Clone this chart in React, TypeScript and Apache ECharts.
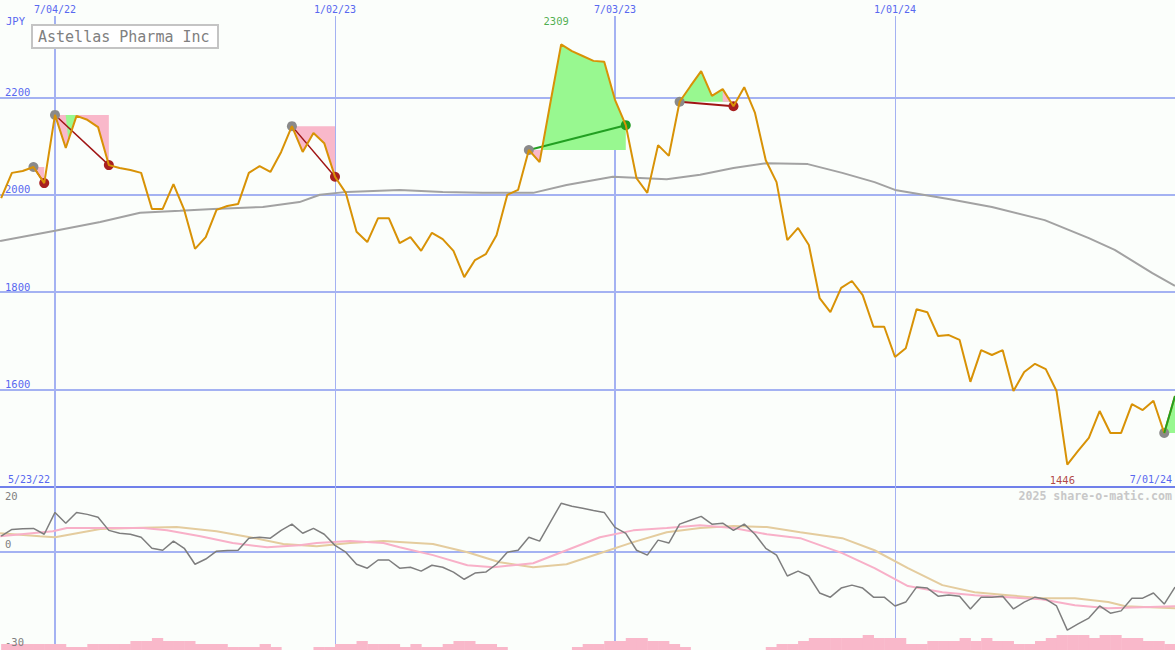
import React, { useEffect, useRef } from "react";
import * as echarts from "echarts";

// ---------- data ----------
const FIRST_WEEK = -5; // week index of the first close (week 0 = 7/04/22)

const closes = [
  1993, 2045, 2049, 2057, 2024,
  2164, 2096, 2162, 2154, 2139, 2061, 2055, 2051, 2045, 1971,
  1971, 2022, 1969, 1889, 1913, 1969, 1977, 1981, 2045, 2059,
  2047, 2088, 2141, 2088, 2127, 2106, 2037, 2004, 1924, 1903,
  1952, 1952, 1901, 1913, 1885, 1922, 1909, 1885, 1831, 1866,
  1878, 1917, 2000, 2010, 2092, 2067, 2189, 2309, 2295, 2285,
  2275, 2273, 2195, 2143, 2034, 2004, 2102, 2080, 2191, 2223,
  2254, 2203, 2217, 2182, 2221, 2168, 2071, 2026, 1907, 1932,
  1897, 1788, 1759, 1809, 1823, 1794, 1729, 1729, 1667, 1685,
  1765, 1759, 1710, 1712, 1702, 1616, 1681, 1671, 1681, 1597,
  1636, 1653, 1642, 1597, 1446, 1474, 1501, 1556, 1511, 1511,
  1570, 1558, 1577, 1511, 1587,
];

const movingAvg: [number, number][] = [
  [-5.1, 1905], [0, 1926], [4.2, 1944], [7.9, 1963], [11.6, 1967], [14.7, 1971],
  [19.3, 1975], [22.7, 1985], [24.6, 2000], [27.1, 2006], [32, 2010], [36, 2006],
  [39.7, 2004], [44.4, 2004], [47.5, 2020], [51.8, 2037], [56.8, 2032], [59.9, 2041],
  [63, 2055], [66.1, 2065], [69.9, 2063], [73.1, 2045], [76.1, 2026], [78, 2010],
  [83.1, 1991], [87, 1975], [91.9, 1948], [96, 1911], [98.4, 1887], [101.9, 1839],
  [104, 1813],
];

const oscillator = [
  4.9, 7.0, 7.2, 7.3, 5.5,
  12.2, 8.9, 12.2, 11.6, 10.7, 6.7, 5.8, 5.5, 4.6, 1.2,
  0.6, 3.4, 1.2, -3.7, -2.1, 0.3, 0.5, 0.6, 4.3, 4.6,
  4.3, 6.7, 8.6, 5.8, 7.3, 5.5, 2.1, 0, -3.7, -4.9,
  -2.4, -2.4, -4.9, -4.6, -5.8, -4.0, -4.6, -6.1, -8.3, -6.4,
  -6.1, -3.7, 0, 0.6, 4.6, 3.4, 9.2, 15.0, 14.1, 13.5,
  12.8, 12.2, 7.6, 5.8, 0.6, -0.9, 3.7, 2.8, 8.6, 9.8,
  11.0, 8.6, 8.9, 6.7, 8.6, 5.5, 1.2, -0.9, -7.3, -5.8,
  -7.3, -12.5, -13.8, -11.0, -10.1, -11.0, -13.8, -13.8, -16.5, -15.3,
  -10.7, -11.0, -13.5, -13.1, -13.5, -17.4, -13.8, -13.8, -13.5, -17.4,
  -15.3, -13.8, -14.4, -16.5, -23.9, -22.0, -20.2, -16.5, -18.7, -18.0,
  -14.1, -14.1, -12.5, -15.9, -10.7,
];

const oscPink: [number, number][] = [
  [-5.1, 4.9], [-0.2, 6.4], [1.1, 7.4], [4.2, 7.4], [8.2, 7.4], [10.4, 6.7],
  [13.5, 4.9], [16.5, 2.8], [19.7, 1.5], [22.7, 2.1], [24.3, 2.8], [27.4, 3.4],
  [30.5, 2.8], [32, 1.5], [35.1, -0.9], [38.3, -4.0], [40.7, -4.6], [44.4, -3.4],
  [47.5, 0.6], [50.6, 4.6], [53.7, 6.7], [56.8, 7.4], [59.9, 8.3], [63, 7.4],
  [66.1, 5.5], [69.2, 4.3], [73.1, -0.3], [76.1, -4.9], [79.2, -10.4], [82.4, -12.3],
  [85.4, -13.2], [88.5, -13.8], [91.6, -14.4], [94.7, -16.3], [97.8, -17.2],
  [100.9, -16.9], [104, -16.6],
];

const oscTan: [number, number][] = [
  [-5.1, 5.8], [-1.4, 4.9], [0, 4.6], [4.2, 7.1], [7.2, 7.4], [11.3, 7.7],
  [15, 6.4], [18.1, 4.6], [21.2, 2.5], [24.3, 1.8], [27.4, 2.8], [30.5, 3.4],
  [32, 3.1], [35.1, 2.5], [38.3, 0], [41.3, -3.1], [44.4, -4.6], [47.5, -3.7],
  [50.6, -0.3], [53.7, 3.1], [56.8, 6.1], [59.9, 7.4], [63, 8.0], [66.1, 7.7],
  [69.2, 6.1], [73.1, 4.3], [76.1, 0.6], [79.2, -4.9], [82.4, -10.1], [85.4, -12.3],
  [88.5, -13.2], [91.6, -14.1], [94.7, -14.1], [97.8, -15.3], [99.4, -16.6],
  [104, -17.2],
];

const volumeLevels = [
  2, 2, 2, 2, 2,
  2, 1, 1, 2, 2, 2, 2, 3, 3, 4,
  3, 3, 3, 2, 2, 2, 1, 1, 1, 2,
  1, 0, 0, 0, 1, 1, 2, 2, 3, 2,
  2, 2, 1, 2, 1, 1, 2, 3, 3, 2,
  2, 1, 0, 0, 0, 0, 0, 0, 1, 2,
  2, 3, 3, 4, 4, 3, 3, 2, 1, 0,
  0, 0, 0, 0, 0, 0, 1, 2, 2, 3,
  4, 4, 4, 4, 4, 5, 4, 4, 4, 2,
  2, 3, 3, 3, 4, 3, 4, 3, 3, 2,
  2, 3, 4, 5, 5, 5, 4, 5, 5, 4,
  4, 3, 3, 2, 2,
];

const gridWeeks = [0, 26, 52, 78];
const gridDates = ["7/04/22", "1/02/23", "7/03/23", "1/01/24"];
const startDate = "5/23/22";
const endDate = "7/01/24";
const currency = "JPY";
const title = "Astellas Pharma Inc";
const watermark = "2025 share-o-matic.com";

const tradeEntry = [-2, 0, 22, 44, 58, 103];
const tradeExit = [-1, 5, 26, 53, 63, 104];
const tradeWon = [false, false, false, true, false, true];
const tradeOpen = [false, false, false, false, false, true];

const extraGreen: [number, number][][] = [
  [[0.99, 2164], [1.95, 2164], [1.23, 2115]],
];
const extraPink: [number, number][][] = [
  [[62, 2217], [62, 2191], [62.74, 2191]],
];

// ---------- styles ----------
const X_MIN = -5.107;
const X_MAX = 104;
const FONT = "DejaVu Sans Mono";
const BLUE_TXT = "#5868f0";
const GRID_CLR = "#a4b2f2";
const PRICE_CLR = "#d89206";
const GREEN_FILL = "#98f890";
const PINK_FILL = "#f9b8ca";
const RED_DOT = "#a82020";
const GREEN_DOT = "#1f9a1f";
const LOSS_LINE = "#a01414";
const WIN_LINE = "#22a022";

const priceAt = (w: number) => closes[w - FIRST_WEEK];

// region between price and entry level, on one side (above or below)
function sidePolygon(a: number, b: number, level: number, above: boolean): number[][] {
  const clampV = (v: number) => (above ? Math.max(v, level) : Math.min(v, level));
  const pts: number[][] = [[a, level]];
  for (let w = a; w <= b; w++) {
    const v = priceAt(w);
    if (w > a) {
      const pv = priceAt(w - 1);
      if ((pv - level) * (v - level) < 0) {
        const t = (level - pv) / (v - pv);
        pts.push([w - 1 + t, level]);
      }
    }
    pts.push([w, clampV(v)]);
  }
  pts.push([b, level]);
  return pts;
}

export default function App() {
  const ref = useRef<HTMLDivElement>(null);

  useEffect(() => {
    if (!ref.current) return;
    const chart = echarts.init(ref.current, undefined, { renderer: "svg" });

    const priceData = closes.map((v, i) => [i + FIRST_WEEK, v]);
    const oscData = oscillator.map((v, i) => [i + FIRST_WEEK, v]);
    const volData = volumeLevels.map((v, i) => [i + FIRST_WEEK, v]);

    const fills: { color: string; pts: number[][] }[] = [];
    tradeEntry.forEach((a, k) => {
      const b = tradeExit[k];
      const level = priceAt(a);
      fills.push({ color: GREEN_FILL, pts: sidePolygon(a, b, level, true) });
      fills.push({ color: PINK_FILL, pts: sidePolygon(a, b, level, false) });
    });
    extraGreen.forEach((pts) => fills.push({ color: GREEN_FILL, pts }));
    extraPink.forEach((pts) => fills.push({ color: PINK_FILL, pts }));

    let maxI = 0;
    let minI = 0;
    closes.forEach((v, i) => {
      if (v > closes[maxI]) maxI = i;
      if (v < closes[minI]) minI = i;
    });

    const series: any[] = [];

    series.push({
      type: "custom",
      xAxisIndex: 0,
      yAxisIndex: 0,
      z: 2,
      silent: true,
      data: fills.map((f) => f.pts[0]),
      renderItem: (params: any, api: any) => {
        const f = fills[params.dataIndex];
        return {
          type: "polygon",
          shape: { points: f.pts.map((p) => api.coord(p)) },
          style: { fill: f.color, stroke: null },
        };
      },
    });

    series.push({
      type: "line",
      xAxisIndex: 0,
      yAxisIndex: 0,
      z: 3,
      data: movingAvg,
      symbol: "none",
      silent: true,
      lineStyle: { color: "#a2a2a2", width: 2 },
      markLine: {
        z: 1,
        silent: true,
        symbol: ["none", "none"],
        data: gridWeeks.map((w, i) => [
          {
            coord: [w, 2367],
            lineStyle: { color: GRID_CLR, width: i % 2 === 0 ? 2 : 1, type: "solid" },
            label: {
              show: true,
              position: "start",
              distance: 2,
              formatter: gridDates[i],
              color: BLUE_TXT,
              fontFamily: FONT,
              fontSize: 10,
            },
          },
          { coord: [w, 1400] },
        ]),
      },
    });

    tradeEntry.forEach((a, k) => {
      const b = tradeExit[k];
      series.push({
        type: "line",
        xAxisIndex: 0,
        yAxisIndex: 0,
        z: tradeOpen[k] ? 7 : 4,
        data: [[a, priceAt(a)], [b, priceAt(b)]],
        symbol: "none",
        silent: true,
        lineStyle: {
          color: tradeWon[k] ? WIN_LINE : LOSS_LINE,
          width: tradeOpen[k] || k === 4 || k === 3 ? 2 : 1.5,
        },
      });
    });

    series.push({
      type: "scatter",
      xAxisIndex: 0,
      yAxisIndex: 0,
      z: 5,
      silent: true,
      symbolSize: 10,
      itemStyle: { color: "#8a8a8a", opacity: 1 },
      data: tradeEntry.map((a) => [a, priceAt(a)]),
    });
    series.push({
      type: "scatter",
      xAxisIndex: 0,
      yAxisIndex: 0,
      z: 5,
      silent: true,
      symbolSize: 10,
      data: tradeExit
        .map((b, k) => ({ b, k }))
        .filter(({ k }) => !tradeOpen[k])
        .map(({ b, k }) => ({
          value: [b, priceAt(b)],
          itemStyle: { color: tradeWon[k] ? GREEN_DOT : RED_DOT, opacity: 1 },
        })),
    });

    series.push({
      type: "line",
      xAxisIndex: 0,
      yAxisIndex: 0,
      z: 6,
      data: priceData,
      symbol: "none",
      silent: true,
      lineStyle: { color: PRICE_CLR, width: 2 },
    });

    series.push({
      type: "scatter",
      xAxisIndex: 0,
      yAxisIndex: 0,
      z: 8,
      silent: true,
      symbolSize: 0,
      data: [
        {
          value: [maxI + FIRST_WEEK, closes[maxI]],
          label: {
            show: true,
            position: "inside",
            offset: [-5, -23],
            formatter: String(closes[maxI]),
            color: "#1f9a1f",
            fontFamily: FONT,
            fontSize: 10.5,
          },
        },
        {
          value: [minI + FIRST_WEEK, closes[minI]],
          label: {
            show: true,
            position: "inside",
            offset: [-5, 15],
            formatter: String(closes[minI]),
            color: "#a01414",
            fontFamily: FONT,
            fontSize: 10.5,
          },
        },
      ],
    });

    // lower panel
    series.push({
      type: "line",
      xAxisIndex: 1,
      yAxisIndex: 1,
      z: 3,
      data: oscTan,
      symbol: "none",
      silent: true,
      lineStyle: { color: "#e4cc9e", width: 2 },
    });
    series.push({
      type: "line",
      xAxisIndex: 1,
      yAxisIndex: 1,
      z: 4,
      data: oscPink,
      symbol: "none",
      silent: true,
      lineStyle: { color: "#f8b0c8", width: 2 },
    });
    series.push({
      type: "line",
      xAxisIndex: 1,
      yAxisIndex: 1,
      z: 5,
      data: oscData,
      symbol: "none",
      silent: true,
      lineStyle: { color: "#7e7e7e", width: 1.5 },
      markLine: {
        z: 1,
        silent: true,
        symbol: ["none", "none"],
        label: { show: false },
        data: [
          ...gridWeeks.map((w, i) => ({
            xAxis: w,
            lineStyle: { color: GRID_CLR, width: i % 2 === 0 ? 2 : 1, type: "solid" },
          })),
          { yAxis: 0, lineStyle: { color: GRID_CLR, width: 2, type: "solid" } },
        ],
      },
    });

    series.push({
      type: "custom",
      xAxisIndex: 2,
      yAxisIndex: 3,
      z: 9,
      silent: true,
      data: volData,
      renderItem: (params: any, api: any) => {
        const w = api.value(0);
        const v = api.value(1);
        if (!v) return null;
        const p0 = api.coord([w, v]);
        const p1 = api.coord([w + 1, 0]);
        return {
          type: "rect",
          shape: { x: p0[0], y: p0[1], width: p1[0] - p0[0] + 0.5, height: p1[1] - p0[1] },
          style: { fill: PINK_FILL, stroke: null },
        };
      },
    });

    const hiddenX = (gridIndex: number) => ({
      type: "value",
      gridIndex,
      min: X_MIN,
      max: X_MAX,
      axisLine: { show: false },
      axisTick: { show: false },
      axisLabel: { show: false },
      splitLine: { show: false },
    });

    const option: any = {
      animation: false,
      backgroundColor: "#fbfefb",
      grid: [
        { left: 0, right: 0, top: 0, height: 487 },
        { left: 0, right: 0, top: 487, height: 163 },
        { left: 0, right: 0, top: 620, height: 30 },
      ],
      xAxis: [
        {
          ...hiddenX(0),
          axisLine: { show: true, onZero: false, lineStyle: { color: "#7080ea", width: 2 } },
        },
        hiddenX(1),
        hiddenX(2),
      ],
      yAxis: [
        {
          type: "value",
          gridIndex: 0,
          position: "left",
          min: 1400,
          max: 2400,
          interval: 200,
          axisLine: { show: false },
          axisTick: { show: false },
          splitLine: {
            show: true,
            showMinLine: false,
            showMaxLine: false,
            lineStyle: { color: GRID_CLR, width: 2 },
          },
          axisLabel: {
            inside: true,
            margin: 5,
            verticalAlign: "bottom",
            color: BLUE_TXT,
            fontFamily: FONT,
            fontSize: 10.5,
            formatter: (v: number) => (v === 1400 || v === 2400 ? "" : String(v)),
          },
        },
        {
          type: "value",
          gridIndex: 1,
          position: "left",
          z: 12,
          min: -30,
          max: 20,
          interval: 10,
          axisLine: { show: false },
          axisTick: { show: false },
          splitLine: { show: false },
          axisLabel: {
            inside: true,
            margin: 5,
            verticalAlign: "bottom",
            lineHeight: 16,
            color: "#808080",
            fontFamily: FONT,
            fontSize: 10.5,
            formatter: (v: number) => (v === 0 || v === -30 ? String(v) : ""),
          },
        },
        {
          type: "value",
          gridIndex: 1,
          position: "left",
          offset: 0,
          z: 12,
          min: -30,
          max: 20,
          interval: 10,
          axisLine: { show: false },
          axisTick: { show: false },
          splitLine: { show: false },
          axisLabel: {
            inside: true,
            margin: 5,
            verticalAlign: "top",
            lineHeight: 17,
            color: "#808080",
            fontFamily: FONT,
            fontSize: 10.5,
            formatter: (v: number) => (v === 20 ? String(v) : ""),
          },
        },
        {
          type: "value",
          gridIndex: 2,
          min: 0,
          max: 10,
          show: false,
        },
      ],
      graphic: [
        {
          type: "rect",
          shape: { x: 32, y: 25, width: 186, height: 23 },
          style: { fill: "#ffffff", stroke: "#c4c4c4", lineWidth: 2 },
          z: 20,
        },
        {
          type: "text",
          x: 38,
          y: 37,
          z: 21,
          style: {
            text: title,
            fill: "#808080",
            font: `15px "${FONT}"`,
            textAlign: "left",
            textVerticalAlign: "middle",
          },
        },
        {
          type: "text",
          x: 6,
          y: 21,
          z: 21,
          style: {
            text: currency,
            fill: BLUE_TXT,
            font: `10.5px "${FONT}"`,
            textAlign: "left",
            textVerticalAlign: "middle",
          },
        },
        {
          type: "text",
          x: 8,
          y: 479,
          z: 21,
          style: {
            text: startDate,
            fill: BLUE_TXT,
            font: `10px "${FONT}"`,
            textAlign: "left",
            textVerticalAlign: "middle",
          },
        },
        {
          type: "text",
          x: 1172,
          y: 479,
          z: 21,
          style: {
            text: endDate,
            fill: BLUE_TXT,
            font: `10px "${FONT}"`,
            textAlign: "right",
            textVerticalAlign: "middle",
          },
        },
        {
          type: "text",
          x: 1172,
          y: 496,
          z: 21,
          style: {
            text: watermark,
            fill: "#c8c8c8",
            font: `bold 11.6px "${FONT}"`,
            textAlign: "right",
            textVerticalAlign: "middle",
          },
        },
      ],
      series,
    };

    chart.setOption(option);
    return () => chart.dispose();
  }, []);

  return (
    <div
      ref={ref}
      style={{ position: "fixed", left: 0, top: 0, width: 1175, height: 650 }}
    />
  );
}
